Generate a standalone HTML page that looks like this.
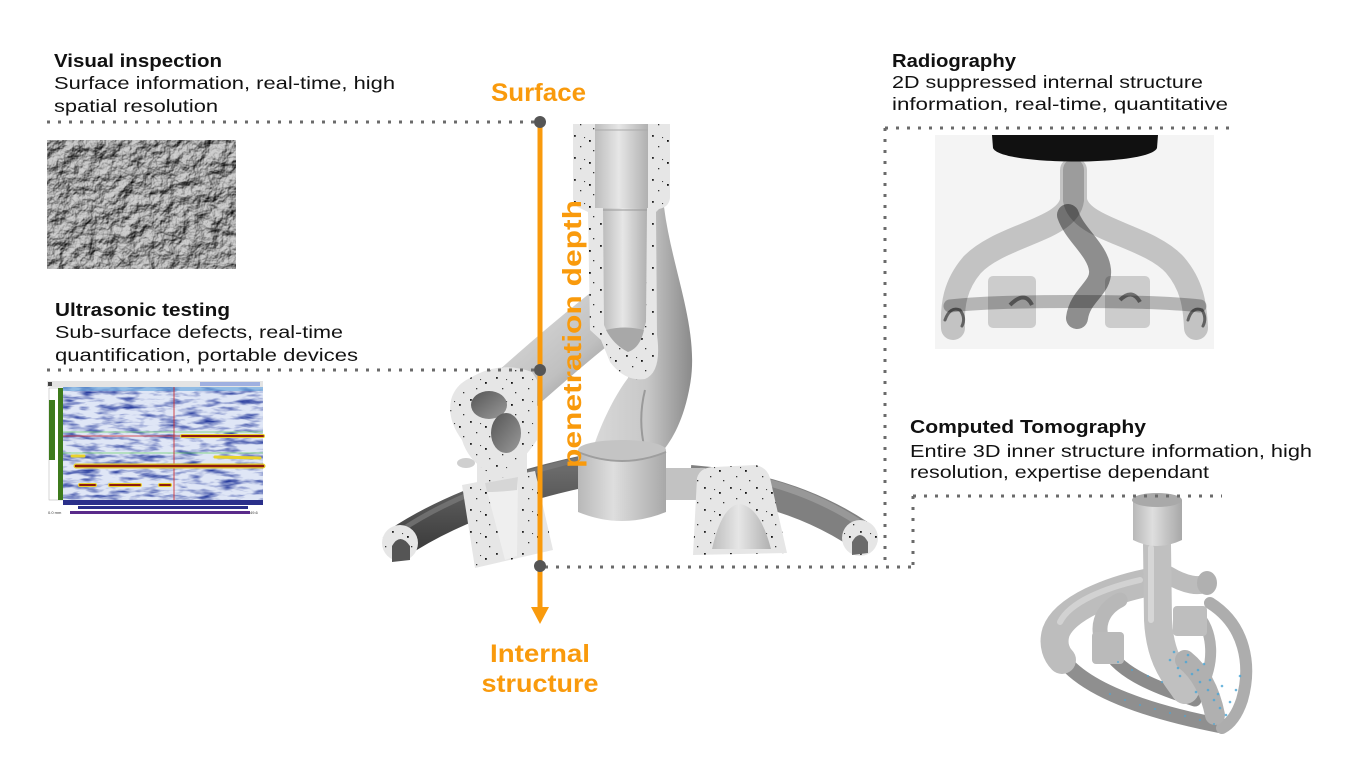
<!DOCTYPE html>
<html><head><meta charset="utf-8">
<style>
html,body{margin:0;padding:0;background:#fff;}
svg{display:block;}
text{font-family:"Liberation Sans",Arial,sans-serif;}
</style></head>
<body>
<svg width="1355" height="762" viewBox="0 0 1355 762" xmlns="http://www.w3.org/2000/svg">
<defs>
  <filter id="rock" x="0" y="0" width="100%" height="100%" color-interpolation-filters="sRGB">
    <feTurbulence type="fractalNoise" baseFrequency="0.065" numOctaves="4" seed="7" result="n"/>
    <feDiffuseLighting in="n" surfaceScale="5" diffuseConstant="1" lighting-color="#d0d0d0">
      <feDistantLight azimuth="235" elevation="52"/>
    </feDiffuseLighting>
  </filter>
  <filter id="us" x="0" y="0" width="100%" height="100%" color-interpolation-filters="sRGB">
    <feTurbulence type="fractalNoise" baseFrequency="0.05 0.2" numOctaves="3" seed="5"/>
    <feColorMatrix type="matrix" values="0 0 0 0 0.16  0 0 0 0 0.24  0 0 0 0 0.62  2.4 0 0 0 -1.05"/>
  </filter>
  <pattern id="sp" width="26" height="22" patternUnits="userSpaceOnUse">
    <rect x="2" y="3" width="1.8" height="1.8" fill="#222"/>
    <rect x="17" y="8" width="1.8" height="1.8" fill="#111"/>
    <rect x="8" y="14" width="1.3" height="1.3" fill="#333"/>
    <rect x="21" y="18" width="1.3" height="1.3" fill="#333"/>
    <rect x="12" y="5" width="1.1" height="1.1" fill="#444"/>
  </pattern>
  <linearGradient id="tubeg" x1="0" x2="1" y1="0" y2="0">
    <stop offset="0" stop-color="#bdbdbd"/><stop offset=".45" stop-color="#e6e6e6"/><stop offset="1" stop-color="#b0b0b0"/>
  </linearGradient>
  <linearGradient id="pipeg" x1="0" x2="1" y1="0" y2="1">
    <stop offset="0" stop-color="#dadada"/><stop offset=".6" stop-color="#c0c0c0"/><stop offset="1" stop-color="#8f8f8f"/>
  </linearGradient>
  <linearGradient id="pipeg2" x1="0" x2="1" y1="0" y2="0">
    <stop offset="0" stop-color="#d9d9d9"/><stop offset=".55" stop-color="#c8c8c8"/><stop offset="1" stop-color="#8a8a8a"/>
  </linearGradient>
  <linearGradient id="cylg" x1="0" x2="1" y1="0" y2="0">
    <stop offset="0" stop-color="#b8b8b8"/><stop offset=".4" stop-color="#dedede"/><stop offset="1" stop-color="#a8a8a8"/>
  </linearGradient>
  <linearGradient id="darkg" x1="0" x2="0" y1="0" y2="1">
    <stop offset="0" stop-color="#6a6a6a"/><stop offset="1" stop-color="#3f3f3f"/>
  </linearGradient>
  <linearGradient id="peang" x1="0" x2="1" y1="0" y2="1">
    <stop offset="0" stop-color="#555"/><stop offset="1" stop-color="#9a9a9a"/>
  </linearGradient>
</defs>

<!-- ===== Text blocks ===== -->
<g fill="#111">
  <text x="54" y="67" font-size="18" font-weight="bold" textLength="168" lengthAdjust="spacingAndGlyphs">Visual inspection</text>
  <text x="54" y="89" font-size="17.5" textLength="341" lengthAdjust="spacingAndGlyphs">Surface information, real-time, high</text>
  <text x="54" y="112" font-size="17.5" textLength="164" lengthAdjust="spacingAndGlyphs">spatial resolution</text>

  <text x="55" y="316" font-size="18" font-weight="bold" textLength="175" lengthAdjust="spacingAndGlyphs">Ultrasonic testing</text>
  <text x="55" y="338" font-size="17.5" textLength="288" lengthAdjust="spacingAndGlyphs">Sub-surface defects, real-time</text>
  <text x="55" y="361" font-size="17.5" textLength="303" lengthAdjust="spacingAndGlyphs">quantification, portable devices</text>

  <text x="892" y="67" font-size="18" font-weight="bold" textLength="124" lengthAdjust="spacingAndGlyphs">Radiography</text>
  <text x="892" y="88" font-size="17.5" textLength="311" lengthAdjust="spacingAndGlyphs">2D suppressed internal structure</text>
  <text x="892" y="110" font-size="17.5" textLength="336" lengthAdjust="spacingAndGlyphs">information, real-time, quantitative</text>

  <text x="910" y="433" font-size="18" font-weight="bold" textLength="236" lengthAdjust="spacingAndGlyphs">Computed Tomography</text>
  <text x="910" y="457" font-size="17.5" textLength="402" lengthAdjust="spacingAndGlyphs">Entire 3D inner structure information, high</text>
  <text x="910" y="478" font-size="17.5" textLength="299" lengthAdjust="spacingAndGlyphs">resolution, expertise dependant</text>
</g>

<!-- ===== Visual inspection image ===== -->
<rect x="47" y="140" width="189" height="129" filter="url(#rock)"/>

<!-- ===== Ultrasonic image ===== -->
<g>
  <rect x="47" y="381" width="216" height="134" fill="#fff"/>
  <rect x="47" y="381" width="216" height="6" fill="#e4e4e4"/>
  <rect x="48" y="382" width="4" height="4" fill="#444"/>
  <rect x="200" y="382" width="60" height="4" fill="#9fb0e0"/>
  <rect x="49" y="388" width="14" height="112" fill="#fff" stroke="#aaa" stroke-width="0.5"/>
  <rect x="58" y="388" width="6" height="112" fill="#3d7a1c"/>
  <rect x="49" y="400" width="6" height="60" fill="#3d7a1c"/>
  <rect x="63" y="387" width="200" height="113" fill="#dfe6f6"/>
  <rect x="63" y="387" width="200" height="113" filter="url(#us)"/>
  <rect x="63" y="387" width="200" height="4" fill="#5fa0d8" opacity=".6"/>
  <line x1="63" y1="432" x2="263" y2="432" stroke="#6cd06c" stroke-width="0.8"/>
  <line x1="63" y1="453" x2="263" y2="453" stroke="#6cd06c" stroke-width="0.8"/>
  <line x1="63" y1="436" x2="180" y2="436" stroke="#d02020" stroke-width="0.8"/>
  <line x1="174" y1="387" x2="174" y2="500" stroke="#d02020" stroke-width="0.8"/>
  <g stroke-linecap="round" fill="none">
    <path d="M 76 466 L 263 466" stroke="#e8d22a" stroke-width="5"/>
    <path d="M 76 466 L 263 466" stroke="#8c1a0e" stroke-width="2.5"/>
    <path d="M 182 436 L 263 436" stroke="#e8d22a" stroke-width="4"/>
    <path d="M 182 436 L 263 436" stroke="#8c1a0e" stroke-width="2"/>
    <path d="M 80 485 L 95 485 M 110 485 L 140 485 M 160 485 L 170 485" stroke="#e8d22a" stroke-width="4"/>
    <path d="M 80 485 L 95 485 M 110 485 L 140 485 M 160 485 L 170 485" stroke="#8c1a0e" stroke-width="2"/>
    <path d="M 72 456 L 84 456 M 215 457 L 260 458" stroke="#e8d22a" stroke-width="3"/>
  </g>
  <rect x="63" y="500" width="200" height="5" fill="#2a2f8a"/>
  <rect x="78" y="506" width="170" height="3" fill="#2a2f8a"/>
  <rect x="70" y="511" width="180" height="3" fill="#5a2a8a"/>
  <text x="48" y="514" font-size="4" fill="#333">0.0 mm</text>
  <text x="250" y="514" font-size="4" fill="#333">49.6</text>
</g>

<!-- ===== Radiography image ===== -->
<g>
  <rect x="935" y="135" width="279" height="214" fill="#f4f4f4"/>
  <g fill="none" stroke-linecap="round">
    <path d="M 1072 170 L 1072 200 C 1068 230 1000 235 972 265 C 955 285 952 305 953 328" stroke="#000" stroke-opacity=".2" stroke-width="24"/>
    <path d="M 1075 170 L 1075 200 C 1080 230 1148 235 1175 265 C 1192 285 1195 305 1196 328" stroke="#000" stroke-opacity=".2" stroke-width="24"/>
    <path d="M 950 306 C 1000 300 1150 300 1200 306" stroke="#000" stroke-opacity=".26" stroke-width="13"/>
    <path d="M 1068 215 C 1075 235 1098 250 1100 270 C 1102 288 1080 295 1077 318" stroke="#000" stroke-opacity=".42" stroke-width="22"/>
    <path d="M 945 320 Q 950 306 960 310 Q 966 318 962 326" stroke="#000" stroke-opacity=".5" stroke-width="3"/>
    <path d="M 1188 320 Q 1192 306 1202 310 Q 1207 318 1203 326" stroke="#000" stroke-opacity=".5" stroke-width="3"/>
  </g>
  <rect x="988" y="276" width="48" height="52" rx="5" fill="#000" fill-opacity=".16"/>
  <rect x="1105" y="276" width="45" height="52" rx="5" fill="#000" fill-opacity=".16"/>
  <path d="M 1010 305 Q 1025 290 1032 305" stroke="#000" stroke-opacity=".45" stroke-width="4" fill="none"/>
  <path d="M 1120 300 Q 1132 288 1140 302" stroke="#000" stroke-opacity=".45" stroke-width="4" fill="none"/>
  <path d="M 992 135 L 1158 135 L 1157 148 C 1150 166 1000 166 993 148 Z" fill="#111"/>
</g>

<!-- ===== CT image ===== -->
<g fill="none" stroke-linecap="round">
  <path d="M 1058 652 C 1080 692 1160 714 1222 726" stroke="#8f8f8f" stroke-width="15"/>
  <path d="M 1210 603 C 1245 625 1252 665 1242 700 C 1237 715 1230 724 1222 728" stroke="#adadad" stroke-width="12"/>
  <path d="M 1105 645 C 1115 670 1150 686 1195 700" stroke="#8c8c8c" stroke-width="13"/>
  <path d="M 1195 612 C 1215 630 1215 665 1200 690" stroke="#b0b0b0" stroke-width="11"/>
  <path d="M 1150 582 C 1110 590 1065 608 1056 632 C 1052 645 1057 655 1062 660" stroke="#bdbdbd" stroke-width="28"/>
  <path d="M 1140 580 C 1105 588 1070 602 1060 622" stroke="#d2d2d2" stroke-width="6"/>
  <path d="M 1120 600 C 1100 610 1095 630 1105 645" stroke="#b8b8b8" stroke-width="15"/>
  <path d="M 1168 575 C 1185 585 1200 588 1207 582" stroke="#bcbcbc" stroke-width="18"/>
  <path d="M 1157 545 L 1158 620 C 1160 660 1175 675 1185 690" stroke="#c0c0c0" stroke-width="28"/>
  <path d="M 1151 548 L 1151 620" stroke="#d6d6d6" stroke-width="6"/>
  <path d="M 1185 660 C 1200 672 1210 690 1215 715" stroke="#b0b0b0" stroke-width="20"/>
</g>
<rect x="1092" y="632" width="32" height="32" rx="4" fill="#bababa"/>
<rect x="1173" y="606" width="34" height="30" rx="4" fill="#bebebe"/>
<ellipse cx="1207" cy="583" rx="10" ry="12" fill="#b0b0b0"/>
<path d="M 1133 500 L 1133 540 Q 1157 552 1182 540 L 1182 500 Z" fill="url(#cylg)"/>
<ellipse cx="1157" cy="500" rx="25" ry="7" fill="#a9a9a9"/>
<g fill="#4aa6d6" opacity=".8">
  <circle cx="1170" cy="660" r="1.3"/><circle cx="1178" cy="668" r="1.3"/><circle cx="1186" cy="662" r="1.3"/>
  <circle cx="1192" cy="674" r="1.3"/><circle cx="1200" cy="682" r="1.3"/><circle cx="1208" cy="690" r="1.3"/>
  <circle cx="1214" cy="700" r="1.3"/><circle cx="1220" cy="708" r="1.3"/><circle cx="1226" cy="715" r="1.3"/>
  <circle cx="1180" cy="676" r="1.3"/><circle cx="1196" cy="692" r="1.3"/><circle cx="1210" cy="680" r="1.3"/>
  <circle cx="1218" cy="694" r="1.3"/><circle cx="1230" cy="702" r="1.3"/><circle cx="1236" cy="690" r="1.3"/>
  <circle cx="1204" cy="664" r="1.3"/><circle cx="1174" cy="652" r="1.3"/><circle cx="1240" cy="676" r="1.3"/>
  <circle cx="1188" cy="655" r="1.3"/><circle cx="1198" cy="670" r="1.3"/><circle cx="1222" cy="686" r="1.3"/>
  <circle cx="1110" cy="694" r="1"/><circle cx="1125" cy="700" r="1"/><circle cx="1140" cy="705" r="1"/>
  <circle cx="1155" cy="709" r="1"/><circle cx="1170" cy="713" r="1"/><circle cx="1185" cy="716" r="1"/>
  <circle cx="1200" cy="720" r="1"/><circle cx="1118" cy="662" r="1"/><circle cx="1132" cy="670" r="1"/>
  <circle cx="1148" cy="676" r="1"/><circle cx="1162" cy="682" r="1"/><circle cx="1214" cy="724" r="1"/>
</g>

<!-- ===== Center structure ===== -->
<g>
  <path d="M 690 480 Q 790 488 860 535" stroke="#808080" stroke-width="30" fill="none"/>
  <path d="M 700 471 Q 790 478 858 522" stroke="#a8a8a8" stroke-width="7" fill="none" opacity=".6"/>
  <path d="M 398 543 Q 470 495 590 470" stroke="url(#darkg)" stroke-width="32" fill="none"/>
  <path d="M 400 531 Q 470 484 585 458" stroke="#7c7c7c" stroke-width="5" fill="none" opacity=".7"/>
  <path d="M 507 398 Q 560 350 608 312" stroke="url(#pipeg)" stroke-width="52" fill="none"/>
  <path d="M 640 207 L 664 207 C 672 270 700 330 690 385 C 684 420 672 440 662 452 L 592 452 C 600 425 615 395 628 378 Z" fill="url(#pipeg2)"/>
  <path d="M 645 390 C 640 410 640 430 645 450" stroke="#9a9a9a" stroke-width="2" fill="none"/>
  <rect x="660" y="468" width="45" height="32" fill="#c2c2c2"/>
  <path d="M 578 450 L 578 512 Q 622 530 666 512 L 666 450 Z" fill="url(#cylg)"/>
  <ellipse cx="622" cy="450" rx="44" ry="10" fill="#c4c4c4"/>
  <path d="M 578 452 Q 622 470 666 452" stroke="#9e9e9e" stroke-width="2" fill="none"/>

  <path d="M 573 124 L 670 124 L 670 198 Q 669 207 659 209 L 656 212 L 657 335 Q 662 372 645 379 Q 625 382 610 362 L 601 340 L 590 330 L 588 212 L 582 209 Q 573 206 573 198 Z" fill="#e6e6e6"/>
  <path d="M 573 124 L 670 124 L 670 198 Q 669 207 659 209 L 656 212 L 657 335 Q 662 372 645 379 Q 625 382 610 362 L 601 340 L 590 330 L 588 212 L 582 209 Q 573 206 573 198 Z" fill="url(#sp)"/>
  <rect x="595" y="124" width="53" height="84" fill="url(#tubeg)"/>
  <line x1="595" y1="130" x2="648" y2="130" stroke="#aaa" stroke-width="1"/>
  <path d="M 603 208 L 647 208 L 646 322 Q 640 345 628 352 Q 612 345 604 325 Z" fill="url(#tubeg)"/>
  <line x1="603" y1="210" x2="647" y2="210" stroke="#999" stroke-width="1"/>
  <path d="M 606 330 Q 625 325 644 330 Q 640 348 628 352 Q 614 345 606 330 Z" fill="#a8a8a8"/>

  <path d="M 477 440 L 527 440 L 527 477 L 477 487 Z" fill="#e6e6e6"/>
  <path d="M 462 485 L 535 471 L 553 550 L 475 568 Z" fill="#e6e6e6"/>
  <path d="M 462 485 L 535 471 L 553 550 L 475 568 Z" fill="url(#sp)"/>
  <path d="M 485 483 L 518 477 L 517 556 L 505 560 Z" fill="#efefef"/>
  <path d="M 485 483 L 518 477 L 517 490 Q 500 492 487 492 Z" fill="#d6d6d6"/>
  <ellipse cx="466" cy="463" rx="9" ry="5" fill="#cfcfcf"/>

  <path d="M 470 378 Q 500 360 532 372 L 537 380 L 537 440 Q 522 462 508 472 L 488 472 Q 468 460 462 440 Q 447 420 451 400 Q 455 385 470 378 Z" fill="#e6e6e6"/>
  <path d="M 470 378 Q 500 360 532 372 L 537 380 L 537 440 Q 522 462 508 472 L 488 472 Q 468 460 462 440 Q 447 420 451 400 Q 455 385 470 378 Z" fill="url(#sp)"/>
  <ellipse cx="489" cy="405" rx="18" ry="14" fill="url(#peang)"/>
  <ellipse cx="506" cy="433" rx="15" ry="20" fill="url(#peang)"/>

  <path d="M 693 555 L 697 478 Q 700 467 715 467 L 755 465 Q 767 467 770 478 L 787 553 Z" fill="#e6e6e6"/>
  <path d="M 693 555 L 697 478 Q 700 467 715 467 L 755 465 Q 767 467 770 478 L 787 553 Z" fill="url(#sp)"/>
  <path d="M 712 549 Q 722 505 740 504 Q 760 507 771 549 Z" fill="url(#tubeg)"/>

  <circle cx="400" cy="543" r="18" fill="#e6e6e6"/>
  <circle cx="400" cy="543" r="18" fill="url(#sp)"/>
  <path d="M 392 562 L 392 546 Q 400 532 410 546 L 410 560 Z" fill="#555"/>
  <circle cx="860" cy="538" r="18" fill="#e6e6e6"/>
  <circle cx="860" cy="538" r="18" fill="url(#sp)"/>
  <path d="M 852 555 L 852 542 Q 860 528 868 542 L 868 553 Z" fill="#6a6a6a"/>
</g>

<!-- ===== Dotted connectors ===== -->
<g stroke="#6a6a6a" stroke-width="3" stroke-dasharray="3 8" fill="none">
  <line x1="47" y1="122" x2="536" y2="122"/>
  <line x1="47" y1="370" x2="536" y2="370"/>
  <line x1="545" y1="567" x2="913" y2="567"/>
  <line x1="885" y1="128" x2="1230" y2="128"/>
  <line x1="885" y1="128" x2="885" y2="560"/>
  <line x1="913" y1="496" x2="1222" y2="496"/>
  <line x1="913" y1="496" x2="913" y2="567"/>
</g>

<!-- ===== Orange axis ===== -->
<line x1="540" y1="122" x2="540" y2="610" stroke="#F99A0C" stroke-width="5"/>
<polygon points="531,607 549,607 540,624" fill="#F99A0C"/>
<circle cx="540" cy="122" r="6" fill="#555"/>
<circle cx="540" cy="370" r="6" fill="#555"/>
<circle cx="540" cy="566" r="6" fill="#555"/>

<g fill="#F99A0C" font-weight="bold">
  <text x="491" y="101" font-size="25" textLength="95" lengthAdjust="spacingAndGlyphs">Surface</text>
  <text x="540" y="662" font-size="25" text-anchor="middle" textLength="100" lengthAdjust="spacingAndGlyphs">Internal</text>
  <text x="540" y="692" font-size="25" text-anchor="middle" textLength="117" lengthAdjust="spacingAndGlyphs">structure</text>
  <text transform="translate(581,334) rotate(-90)" font-size="26" text-anchor="middle" textLength="268" lengthAdjust="spacingAndGlyphs">penetration depth</text>
</g>
</svg>
</body></html>
